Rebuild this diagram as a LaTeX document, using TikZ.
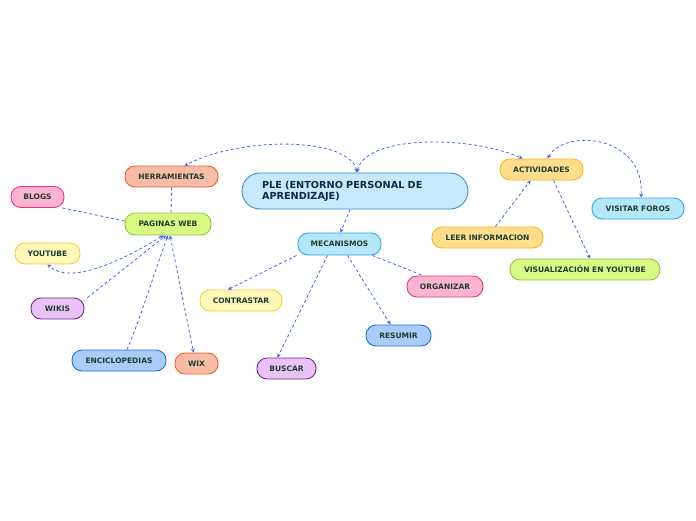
\documentclass[tikz,border=0pt]{standalone}
\usepackage{fontspec}
\setmainfont{DejaVu Sans}
\usetikzlibrary{arrows.meta}
\definecolor{txt}{HTML}{1E3D2E}
\definecolor{roottxt}{HTML}{12284C}
\definecolor{link}{HTML}{4766EE}
\definecolor{bluef}{HTML}{C6EAFB}\definecolor{blued}{HTML}{3A8ED0}
\definecolor{cyanf}{HTML}{B5E6FA}\definecolor{cyand}{HTML}{2AAAE2}
\definecolor{salf}{HTML}{F8BCA6}\definecolor{sald}{HTML}{EE5E2E}
\definecolor{grnf}{HTML}{D8FA84}\definecolor{grnd}{HTML}{8CC43C}
\definecolor{pinkf}{HTML}{FCB4D2}\definecolor{pinkd}{HTML}{E6327E}
\definecolor{yelf}{HTML}{FFF8BA}\definecolor{yeld}{HTML}{F0D030}
\definecolor{purf}{HTML}{EBC2F8}\definecolor{purd}{HTML}{6B2A8C}
\definecolor{enf}{HTML}{A9CCF8}\definecolor{end}{HTML}{2070D0}
\definecolor{orf}{HTML}{FFDD8C}\definecolor{ord}{HTML}{F4B323}
\tikzset{
  topic/.style={draw, line width=0.9pt, rounded corners=10pt, minimum height=21pt,
    inner xsep=0pt, inner ysep=0pt, text=txt, font=\fontsize{7.5}{8}\selectfont\bfseries},
  rootbox/.style={draw, line width=0.9pt, rounded corners=18pt, minimum height=36pt,
    text width=186pt, inner xsep=20pt, align=left, text=roottxt, fill=bluef, draw=blued,
    font=\fontsize{9.7}{11}\selectfont\bfseries},
  conn/.style={draw=link, line width=0.8pt, dash pattern=on 3pt off 2.5pt},
  tip/.style={-{Stealth[length=4pt,width=4pt]}},
  tips/.style={{Stealth[length=4pt,width=4pt]}-{Stealth[length=4pt,width=4pt]}},
  cblue/.style={fill=cyanf, draw=cyand},
  csal/.style={fill=salf, draw=sald},
  cgrn/.style={fill=grnf, draw=grnd},
  cpink/.style={fill=pinkf, draw=pinkd},
  cyel/.style={fill=yelf, draw=yeld},
  cpur/.style={fill=purf, draw=purd},
  cen/.style={fill=enf, draw=end},
  cor/.style={fill=orf, draw=ord},
}
\begin{document}
\begin{tikzpicture}[x=1pt,y=-1pt]
\useasboundingbox (0,0) rectangle (696,520);
\node[rootbox] (root) at (355,191) {PLE (ENTORNO PERSONAL DE\\APRENDIZAJE)};
\node[topic,cblue,minimum width=83pt,minimum height=22pt] (mec) at (339.5,244) {MECANISMOS};
\node[topic,csal,minimum width=93pt] (her) at (171.5,176.5) {HERRAMIENTAS};
\node[topic,cgrn,minimum width=86pt,minimum height=22pt] (pw) at (168,224) {PAGINAS WEB};
\node[topic,cpink,minimum width=53pt] (blogs) at (37.5,197) {BLOGS};
\node[topic,cyel,minimum width=65pt] (yt) at (47.5,253.5) {YOUTUBE};
\node[topic,cpur,minimum width=53pt] (wikis) at (57.5,308.5) {WIKIS};
\node[topic,cen,minimum width=94pt] (enc) at (119,360.5) {ENCICLOPEDIAS};
\node[topic,csal,minimum width=43pt] (wix) at (196.5,363.5) {WIX};
\node[topic,cyel,minimum width=82pt] (con) at (241,300.5) {CONTRASTAR};
\node[topic,cpur,minimum width=59pt] (bus) at (286.5,368.5) {BUSCAR};
\node[topic,cen,minimum width=65pt] (res) at (398.5,335.5) {RESUMIR};
\node[topic,cpink,minimum width=76pt] (org) at (445,286.5) {ORGANIZAR};
\node[topic,cor,minimum width=111pt] (leer) at (487.5,237.5) {LEER INFORMACION};
\node[topic,cor,minimum width=83pt] (act) at (541.5,169.5) {ACTIVIDADES};
\node[topic,cblue,minimum width=92pt] (vis) at (638,208.5) {VISITAR FOROS};
\node[topic,cgrn,minimum width=150pt] (vy) at (585,269.5) {VISUALIZACIÓN EN YOUTUBE};

% connectors
\draw[conn,tips] ([xshift=2pt]root.north) .. controls (350,138) and (245,135) .. ([xshift=13pt]her.north);
\draw[conn,tips] ([xshift=2pt]root.north) .. controls (365,135) and (470,135) .. ([xshift=-19pt]act.north);
\draw[conn,tips] ([xshift=6pt]act.north) .. controls (565,128) and (645,135) .. ([xshift=3pt]vis.north);
\draw[conn,tip] ([xshift=-5pt]root.south) -- ([xshift=1pt]mec.north);
\draw[conn] (her.south) -- ([xshift=3pt]pw.north);
\draw[conn] ([xshift=-2pt]blogs.south east) -- ([yshift=3pt]pw.west);
\draw[conn,tips] ([xshift=-5pt]pw.south) .. controls (120,262) and (70,285) .. ([xshift=0pt]yt.south);
\draw[conn,tip] ([xshift=3pt]wikis.north east) -- ([xshift=-2pt]pw.south);
\draw[conn,tip] ([xshift=8pt]enc.north) .. controls (140,320) and (155,270) .. (pw.south);
\draw[conn,tips] ([xshift=2pt]pw.south) -- ([xshift=-3pt]wix.north);
\draw[conn,tip] ([xshift=-1pt]mec.south west) -- ([xshift=-13pt]con.north);
\draw[conn,tip] ([xshift=-12pt]mec.south) -- ([xshift=-9pt]bus.north);
\draw[conn,tip] ([xshift=8pt]mec.south) -- ([xshift=-8pt]res.north);
\draw[conn] ([xshift=-9pt]mec.south east) -- ([xshift=-22pt]org.north);
\draw[conn,tip] ([xshift=8pt]leer.north) -- ([xshift=-11pt]act.south);
\draw[conn,tip] ([xshift=12pt]act.south) -- ([xshift=5pt]vy.north);
\end{tikzpicture}
\end{document}
